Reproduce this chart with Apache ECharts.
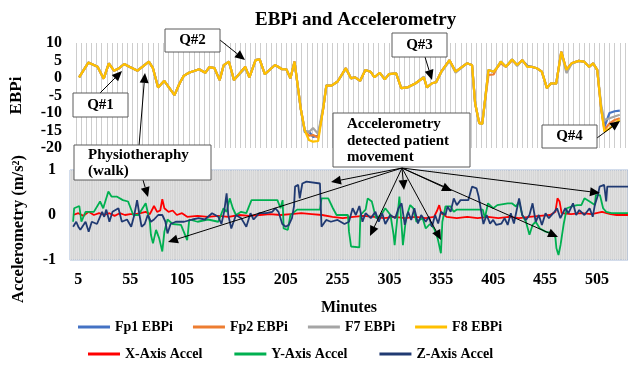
<!DOCTYPE html>
<html>
<head>
<meta charset="utf-8">
<script src="https://cdn.jsdelivr.net/npm/echarts@6/dist/echarts.min.js"></script>
<style>
  html, body {margin: 0; padding: 0; background: #fff;}
  #chart {width: 628px; height: 376px;}
</style>
</head>
<body>
<div id="chart"></div>
<script>
const serif = '"Liberation Serif", "DejaVu Serif", serif';

// EBPi samples (minute of recording, value)
const ebpiMinutes = [0, 9, 18, 24, 29, 34, 39, 44, 49, 57,
    68, 72, 77, 83, 93, 98, 102, 107, 117, 123,
    127, 132, 137, 141, 146, 151, 162, 166, 172, 176,
    181, 191, 198, 202, 206, 210, 216, 220, 224, 228,
    233, 238, 241, 246, 252, 260, 265, 269, 274, 279,
    284, 288, 293, 298, 302, 309, 314, 320, 328, 336,
    339, 344, 348, 353, 361, 367, 378, 383, 386, 390,
    393, 399, 404, 407, 411, 416, 422, 427, 432, 437,
    441, 446, 451, 456, 460, 465, 470, 475, 480, 487,
    492, 497, 501, 505, 509, 512, 517, 522, 527];
const f8 = [0.2, 4.4, 3.2, -0.2, 4.2, 2.1, 2.8, 4.0, 3.2, 2.1,
    4.7, 2.8, -2.7, -0.8, -4.9, -1.5, 0.6, 1.5, 2.5, 1.5,
    3.1, 2.8, -0.6, 3.7, 4.7, -0.6, 3.2, 0.2, 5.1, 5.3,
    1.1, 3.7, 2.5, 2.5, -0.1, 4.7, -8.7, -15.0, -17.7, -18.2,
    -18.0, -8.6, -2.2, -2.2, -1.0, 2.8, -0.1, 0.2, -0.8, 2.3,
    1.8, 0.2, 1.5, -0.4, 1.1, 1.3, -2.9, -2.7, -1.5, 0.2,
    -2.7, -1.5, -1.2, 1.8, 5.1, 1.8, 4.2, 3.7, -7.2, -12.9,
    -13.1, 2.3, 1.8, 2.8, 4.7, 3.2, 5.3, 3.7, 5.1, 3.2,
    3.2, 2.8, 1.8, -2.9, -1.5, -1.6, 7.5, 2.3, 4.2, 4.9,
    4.7, 3.2, 4.2, 2.3, -9.1, -15.3, -14.4, -12.9, -12.0];
const fp1 = [0.2, 4.4, 3.2, -0.2, 4.2, 2.1, 2.8, 4.0, 3.2, 2.1,
    4.7, 2.8, -2.7, -0.8, -4.9, -1.5, 0.6, 1.5, 2.5, 1.5,
    3.1, 2.8, -0.6, 3.7, 4.7, -0.6, 3.2, 0.2, 5.1, 5.3,
    1.1, 3.7, 2.5, 2.5, -0.1, 4.7, -8.7, -15.5, -15.3, -16.8,
    -16.5, -8.6, -2.2, -2.2, -1.0, 2.8, -0.1, 0.2, -0.8, 2.3,
    1.8, 0.2, 1.5, -0.4, 1.1, 1.3, -2.9, -2.7, -1.5, 0.2,
    -2.7, -1.5, -1.2, 1.8, 5.1, 1.8, 4.2, 3.7, -7.2, -12.9,
    -13.1, 2.3, 1.8, 2.8, 4.7, 3.2, 5.3, 3.7, 5.1, 3.5,
    3.2, 2.8, 1.8, -2.9, -1.5, -1.6, 7.5, 2.3, 4.2, 4.9,
    4.7, 3.2, 4.2, 2.3, -9.1, -14.0, -10.0, -9.5, -9.3];
const fp2 = [0.2, 4.4, 3.2, -0.2, 4.2, 2.1, 2.8, 4.0, 3.2, 2.1,
    4.7, 2.8, -2.7, -0.8, -4.9, -1.5, 0.6, 1.5, 2.5, 1.5,
    3.1, 2.8, -0.6, 3.7, 4.7, -0.6, 3.2, 0.2, 5.1, 5.3,
    1.1, 3.7, 2.5, 2.5, -0.1, 4.7, -8.7, -15.0, -16.5, -16.3,
    -17.0, -8.6, -2.2, -2.2, -1.0, 2.8, -0.1, 0.2, -0.8, 2.3,
    1.8, 0.2, 1.5, -0.4, 1.1, 1.3, -2.9, -2.7, -1.5, 0.2,
    -2.7, -1.5, -1.2, 1.8, 5.1, 1.8, 4.2, 3.7, -7.2, -12.9,
    -12.5, 0.9, 1.0, 2.8, 4.2, 3.2, 5.0, 3.7, 5.1, 3.2,
    3.2, 2.8, 1.8, -2.9, -1.5, -1.6, 7.5, 2.3, 4.2, 4.9,
    4.7, 3.2, 4.2, 2.3, -9.1, -14.8, -13.0, -12.0, -11.5];
const f7 = [0.2, 4.4, 3.2, -0.2, 4.2, 2.1, 2.8, 4.0, 3.2, 2.1,
    4.7, 2.8, -2.7, -0.8, -4.9, -1.5, 0.6, 1.5, 2.5, 1.5,
    3.1, 2.8, -0.6, 3.7, 4.7, -0.6, 2.8, 0.2, 5.1, 5.3,
    1.1, 3.7, 2.5, 2.5, -0.1, 4.5, -8.7, -15.0, -15.5, -14.3,
    -16.0, -8.0, -2.0, -2.2, -1.0, 2.6, -0.1, 0.2, -0.8, 2.3,
    1.8, 0.2, 1.5, -0.4, 1.1, 1.3, -2.9, -2.7, -1.5, 0.4,
    -2.7, -1.5, -1.2, 1.6, 4.8, 1.5, 4.2, 3.7, -7.2, -12.9,
    -13.1, 2.3, 1.8, 2.8, 4.5, 3.2, 5.3, 3.4, 5.1, 3.2,
    3.2, 2.8, 1.8, -2.9, -1.5, -1.6, 7.2, 1.4, 4.0, 4.9,
    4.7, 3.2, 4.2, 2.3, -8.0, -12.0, -11.5, -11.0, -10.5];

// Accelerometry traces: [minute, m/s²]
const xAccel = [[0, 0], [5, 0.04], [10, -0.02], [15, 0.07], [20, 0], [25, 0.04], [30, 0], [35, 0.04],
    [40, -0.02], [45, 0.04], [50, 0], [55, 0.02], [60, 0.02], [65, 0.04], [70, 0.07], [74, 0.02],
    [78, 0.2], [81, 0.07], [84, 0.1], [86, 0.35], [88, 0.15], [92, 0.07], [96, 0.1], [100, 0],
    [105, 0.04], [110, -0.04], [120, -0.02], [130, -0.04], [140, -0.02], [150, -0.04], [160, 0],
    [170, -0.02], [180, 0], [190, 0.02], [200, 0], [210, 0.02], [220, 0.04], [230, 0.02], [240, 0],
    [250, -0.04], [260, -0.07], [270, -0.04], [280, -0.02], [290, -0.04], [300, -0.07], [310, -0.04],
    [320, -0.07], [330, -0.04], [340, -0.07], [348, -0.04], [351, 0.1], [353, 0.22], [355, 0.04],
    [360, -0.04], [370, -0.07], [380, -0.04], [390, -0.07], [400, -0.04], [410, -0.07], [420, -0.04],
    [430, -0.07], [440, -0.04], [450, -0.02], [460, 0], [465, 0.07], [467, 0.37], [469, 0.3],
    [471, 0.04], [480, 0.02], [490, 0.04], [500, 0.02], [510, 0.07], [518, 0.02], [524, 0], [535, 0]];

const yAccel = [[0, -0.15], [1, 0.15], [6, 0.2], [8, -0.15], [12, 0.07], [20, 0.07], [26, 0.3], [29, 0.15],
    [34, 0.52], [37, 0.41], [42, 0.41], [48, 0.33], [53, 0.3], [58, 0], [63, 0], [67, 0.15], [70, 0.26],
    [74, -0.15], [75, -0.44], [77, -0.63], [80, -0.33], [83, -0.52], [86, -0.81], [88, -0.37], [91, -0.1],
    [96, -0.2], [104, -0.22], [110, -0.56], [112, -0.1], [120, -0.15], [130, -0.1], [140, -0.15],
    [145, 0.15], [148, 0.07], [151, 0.37], [154, 0.15], [157, 0], [162, 0.07], [167, 0.04], [172, 0.33],
    [185, 0.33], [197, 0.33], [200, 0.15], [202, 0.33], [203, -0.3], [207, -0.33], [209.5, 0], [216, 0.12],
    [238, 0.12], [239.5, 0.37], [246, 0.37], [250.5, 0.15], [254, 0], [265, 0], [266, -0.37], [268, -0.7],
    [276, -0.72], [277, 0], [282, 0.12], [284, 0.37], [288, 0.3], [292, -0.07], [297, 0], [301, 0.15],
    [306, 0], [309, -0.44], [310, -0.67], [312, -0.2], [314.6, 0.41], [316, 0], [318, -0.67], [321, -0.07],
    [325, 0.22], [328, 0.15], [331, -0.15], [337, -0.07], [340, -0.3], [344, -0.2], [348, -0.3],
    [351.5, -0.52], [354.6, -0.85], [356, -0.15], [359, 0.19], [364, 0.19], [367, 0.07], [370, 0.12],
    [395, 0.12], [397, -0.07], [400, 0.26], [405, 0.15], [409, 0.22], [419, 0.26], [423, 0.26], [427, 0.19],
    [430, 0.3], [433, 0], [436.6, -0.15], [440, -0.44], [443, -0.22], [446, -0.15], [450, -0.3],
    [455.5, -0.37], [462, -0.41], [465, -0.5], [466, -0.74], [468, -0.89], [470, -0.66], [473, -0.2],
    [476, 0.15], [481, 0.19], [486, 0.22], [490, 0.22], [493, 0.37], [498, 0.3], [503, 0.22], [504, 0.44],
    [508, 0.44], [511, 0.15], [514, 0.07], [519, 0.04], [524, 0.04], [535, 0.04]];

const zAccel = [[0, -0.26], [3, -0.15], [5, -0.26], [7, -0.33], [12, -0.15], [15, -0.37], [18, -0.15],
    [23, -0.2], [28, 0.07], [30, -0.04], [32, 0.12], [35, -0.15], [38, 0.07], [43.7, 0.15], [47, -0.15],
    [52, -0.1], [56, -0.26], [59, 0], [61.7, 0.33], [64, 0], [66, -0.26], [69, -0.2], [72, 0], [75, -0.15],
    [78, -0.1], [82, 0], [86, 0], [89, -0.15], [91, -0.41], [94, -0.2], [99, -0.15], [107, -0.15],
    [115, -0.1], [121, -0.07], [127, -0.1], [134, 0.04], [140, -0.04], [143, -0.2], [145.6, 0.07],
    [148, 0.48], [149.6, 0], [152.5, -0.3], [157, 0], [162, -0.07], [167, -0.26], [171, 0.04], [174, -0.1],
    [179.5, 0.04], [186, 0.04], [192, 0.07], [195, 0.15], [198, 0.07], [201.7, -0.2], [205, -0.26],
    [208, -0.22], [211, -0.07], [213, 0.2], [214, 0.63], [217, 0.67], [218.5, 0.37], [221, 0.7], [225, 0.74],
    [238, 0.7], [239.5, -0.26], [244, -0.11], [248.5, -0.15], [255, -0.11], [261.6, -0.2], [266, -0.15],
    [269.5, 0.15], [272.6, 0], [276, 0.2], [279, -0.15], [282, 0.04], [287, -0.07], [291.5, 0.07],
    [294.7, -0.15], [298, 0.04], [301, -0.2], [305.8, 0], [310.6, -0.07], [313.7, 0.15], [316.7, 0.26],
    [319.8, -0.22], [323, 0.07], [326, -0.11], [329, 0.15], [332.5, -0.19], [335.6, 0], [340, -0.15],
    [343, -0.04], [346, -0.26], [349, 0], [352, -0.19], [354.6, 0.07], [359, 0], [361, 0.19], [364, 0.07],
    [367, 0.37], [370, 0.22], [373.5, 0.33], [381, 0.33], [384.6, 0.63], [386, 0.59], [389, 0.59],
    [391, 0.41], [392.4, 0.37], [395.6, -0.2], [398.7, 0], [402, -0.19], [405, -0.11], [408, -0.22],
    [413, -0.19], [416, -0.07], [419, -0.22], [422, 0.04], [425, -0.19], [430, 0.37], [433, 0],
    [436.6, -0.11], [440, 0], [443, 0.26], [446, -0.15], [449, 0], [452, -0.22], [455.5, 0.04],
    [458.7, -0.07], [463, 0.04], [466.6, 0.15], [469.8, -0.07], [474.5, 0.15], [477.6, 0.04], [482, 0.26],
    [485, 0], [488, 0.11], [493, 0], [498, 0.15], [501, -0.04], [503, 0.22], [506, 0.44], [507.6, 0.63],
    [512, 0.67], [514, 0.3], [515, 0.63], [524, 0.63], [535, 0.63]];

const minuteTicks = [5, 55, 105, 155, 205, 255, 305, 355, 405, 455, 505];

const axisFont = {fontFamily: serif, fontWeight: 'bold', fontSize: 16, color: '#000'};
const legendFont = {fontFamily: serif, fontWeight: 'bold', fontSize: 14, color: '#000'};

// annotation helpers (boxes + arrows drawn on top of the plots)
function arrow(x1, y1, x2, y2) {
    const a = Math.atan2(y2 - y1, x2 - x1);
    const L = 10, W = 4.5;
    const bx = x2 - L * Math.cos(a), by = y2 - L * Math.sin(a);
    return [
        {type: 'line', z: 100, shape: {x1, y1, x2: bx, y2: by}, style: {stroke: '#000', lineWidth: 1}},
        {type: 'polygon', z: 100, shape: {points: [[x2, y2],
            [bx + W * Math.sin(a), by - W * Math.cos(a)],
            [bx - W * Math.sin(a), by + W * Math.cos(a)]]}, style: {fill: '#000'}}
    ];
}
function box(x, y, w, h, text, tx, ty, align) {
    return [
        {type: 'rect', z: 101, shape: {x, y, width: w, height: h}, style: {fill: '#fff', stroke: '#5a5a5a', lineWidth: 1}},
        {type: 'text', z: 102, x: tx, y: ty, style: {text, font: 'bold 15px ' + serif, fill: '#000',
            align: align || 'center', verticalAlign: 'middle', lineHeight: 16.5}}
    ];
}

const graphics = [].concat(
    arrow(100, 93, 122, 71),
    arrow(220, 40, 245, 60),
    arrow(425, 57, 432, 80),
    arrow(597, 138, 620, 121),
    arrow(139, 146, 145, 73),
    arrow(143, 180, 148, 197),
    arrow(402, 168, 331, 182),
    arrow(402, 168, 168, 242),
    arrow(402, 168, 370, 236),
    arrow(402, 168, 404, 190),
    arrow(402, 168, 441, 240),
    arrow(402, 168, 452, 191),
    arrow(402, 168, 558, 237),
    arrow(402, 168, 600, 193),
    box(73, 93, 55, 24, 'Q#1', 100.5, 105),
    box(165, 29, 55, 23, 'Q#2', 192.5, 40.5),
    box(392, 33, 55, 24, 'Q#3', 419.5, 45),
    box(542, 125, 55, 23, 'Q#4', 569.5, 136.5),
    box(74, 145, 137, 35, 'Physiotheraphy\n(walk)', 88, 163, 'left'),
    box(333, 113, 137, 54, 'Accelerometry\ndetected patient\nmovement', 347, 141, 'left'),
    [{type: 'text', x: 19, y: 229, rotation: Math.PI / 2, style: {text: 'Accelerometry (m/s²)',
        font: 'bold 16.5px ' + serif, fill: '#000', align: 'center', verticalAlign: 'middle'}}]
);

const chart = echarts.init(document.getElementById('chart'));
const ebpiLine = (name, values, color) => ({
    name, type: 'line', xAxisIndex: 0, yAxisIndex: 0, symbol: 'none',
    lineStyle: {width: 2.2, color}, itemStyle: {color},
    data: ebpiMinutes.map((m, i) => [m, values[i]])
});
const accelLine = (name, data, color) => ({
    name, type: 'line', xAxisIndex: 1, yAxisIndex: 1, symbol: 'none',
    lineStyle: {width: 1.8, color}, itemStyle: {color}, data
});

chart.setOption({
    animation: false,
    backgroundColor: '#fff',
    title: {
        text: 'EBPi and Accelerometry', left: 250, top: 6,
        textStyle: {fontFamily: serif, fontWeight: 'bold', fontSize: 19, color: '#000'}
    },
    legend: [{
        data: ['Fp1 EBPi', 'Fp2 EBPi', 'F7 EBPi', 'F8 EBPi'],
        left: 73, top: 315, icon: 'rect', itemWidth: 32, itemHeight: 3, itemGap: 20,
        textStyle: legendFont
    }, {
        data: ['X-Axis Accel', 'Y-Axis Accel', 'Z-Axis Accel'],
        left: 83, top: 342, icon: 'rect', itemWidth: 32, itemHeight: 3, itemGap: 32,
        textStyle: legendFont
    }],
    grid: [
        {left: 70, top: 43, width: 570, height: 105},
        {left: 70, top: 170, width: 570, height: 90, show: true,
            backgroundColor: '#d6d6d6', borderColor: '#a7bad8', borderWidth: 1}
    ],
    xAxis: [{
        gridIndex: 0, type: 'value', min: -3, max: 535, interval: 5,
        axisLine: {show: false}, axisTick: {show: false}, axisLabel: {show: false},
        splitLine: {show: true, lineStyle: {color: '#cdcdcd', width: 1}}
    }, {
        gridIndex: 1, type: 'value', min: -3, max: 535, interval: 2,
        axisLine: {show: false}, axisTick: {show: false},
        axisLabel: Object.assign({margin: 12, customValues: minuteTicks}, axisFont),
        splitLine: {show: true, lineStyle: {color: '#e0e0e0', width: 1}},
        name: 'Minutes', nameLocation: 'middle', nameGap: 40,
        nameTextStyle: {fontFamily: serif, fontWeight: 'bold', fontSize: 16, color: '#000'}
    }],
    yAxis: [{
        gridIndex: 0, type: 'value', min: -20, max: 10, interval: 5,
        axisLine: {show: false}, axisTick: {show: false}, splitLine: {show: false},
        axisLabel: Object.assign({margin: 14}, axisFont),
        name: 'EBPi', nameLocation: 'middle', nameGap: 51, nameRotate: 90,
        nameTextStyle: {fontFamily: serif, fontWeight: 'bold', fontSize: 17, color: '#000'}
    }, {
        gridIndex: 1, type: 'value', min: -1, max: 1, interval: 1,
        axisLine: {show: false}, axisTick: {show: false}, splitLine: {show: false},
        axisLabel: Object.assign({margin: 14}, axisFont)
    }],
    series: [
        ebpiLine('Fp1 EBPi', fp1, '#4472c4'),
        ebpiLine('Fp2 EBPi', fp2, '#ed7d31'),
        ebpiLine('F7 EBPi', f7, '#a5a5a5'),
        ebpiLine('F8 EBPi', f8, '#ffc000'),
        accelLine('X-Axis Accel', xAccel, '#ff0000'),
        accelLine('Y-Axis Accel', yAccel, '#00b050'),
        accelLine('Z-Axis Accel', zAccel, '#203a72')
    ],
    graphic: graphics
});
</script>
</body>
</html>
